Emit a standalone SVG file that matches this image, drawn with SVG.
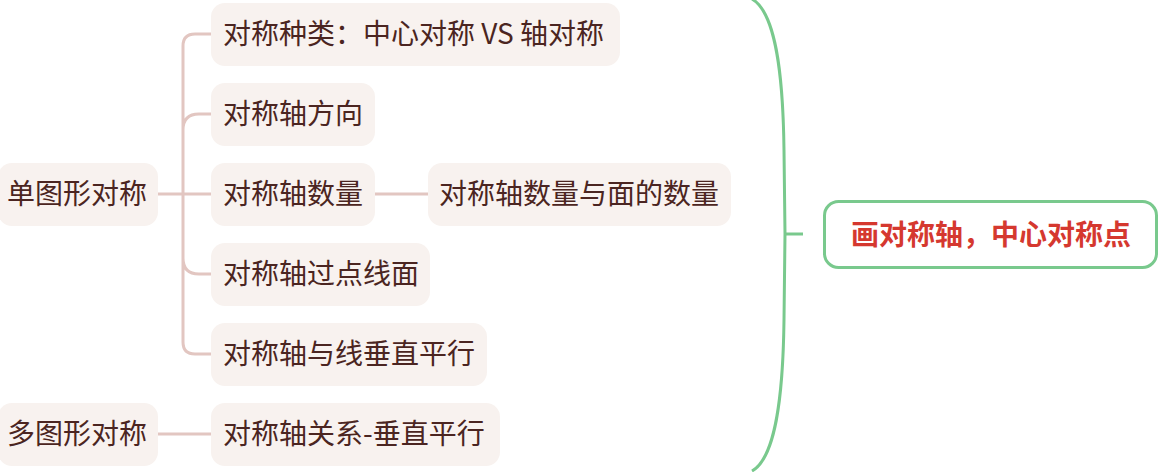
<svg xmlns="http://www.w3.org/2000/svg" width="1160" height="472" viewBox="0 0 1160 472">
<style>
.n rect{fill:#f8f2ef;}
.n text{font-family:"Noto Sans CJK SC","Noto Sans",sans-serif;font-size:28px;fill:#4b2521;}
.c{fill:none;stroke:#e2c6c1;stroke-width:3;stroke-linecap:round;}
.g{fill:none;stroke:#79c98d;stroke-width:3;}
</style>
<rect width="1160" height="472" fill="#ffffff"/>
<g id="connectors">
<path class="c" d="M158,194 H211 M183,342 V46 Q183,34 195,34 H211 M183,130 Q183,114 199,114 H211 M183,258 Q183,274 199,274 H211 M183,342 Q183,354 195,354 H211"/>
<path class="c" d="M375,194 H428"/>
<path class="c" d="M158,434 H211"/>
<path class="g" d="M752,-1 C775,12 783,70 784,150 L785,234 L784,320 C783,400 775,458 752,471"/>
<path class="g" d="M785,234 H803"/>
</g>
<g id="n-single" class="n"><rect x="-2" y="163" width="160" height="63" rx="14"/><text x="7" y="204">单图形对称</text></g>
<g id="n-type" class="n"><rect x="211" y="3" width="409" height="63" rx="14"/><text x="223" y="44">对称种类：中心对称 VS 轴对称</text></g>
<g id="n-dir" class="n"><rect x="211" y="83" width="164" height="63" rx="14"/><text x="223" y="124">对称轴方向</text></g>
<g id="n-count" class="n"><rect x="211" y="163" width="164" height="63" rx="14"/><text x="223" y="204">对称轴数量</text></g>
<g id="n-count-face" class="n"><rect x="428" y="163" width="303" height="63" rx="14"/><text x="439" y="204">对称轴数量与面的数量</text></g>
<g id="n-through" class="n"><rect x="211" y="243" width="219" height="63" rx="14"/><text x="223" y="284">对称轴过点线面</text></g>
<g id="n-perp" class="n"><rect x="211" y="323" width="276" height="63" rx="14"/><text x="223" y="364">对称轴与线垂直平行</text></g>
<g id="n-multi" class="n"><rect x="-2" y="403" width="160" height="63" rx="14"/><text x="7" y="444">多图形对称</text></g>
<g id="n-relation" class="n"><rect x="211" y="403" width="289" height="63" rx="14"/><text x="223" y="444">对称轴关系-垂直平行</text></g>
<g id="root"><rect x="824.5" y="201.5" width="332" height="66" rx="14" fill="#ffffff" stroke="#79c98d" stroke-width="3"/><text x="851" y="245" font-family="'Noto Sans CJK SC','Noto Sans',sans-serif" font-size="28" font-weight="bold" fill="#d5382f">画对称轴，中心对称点</text></g>
</svg>
